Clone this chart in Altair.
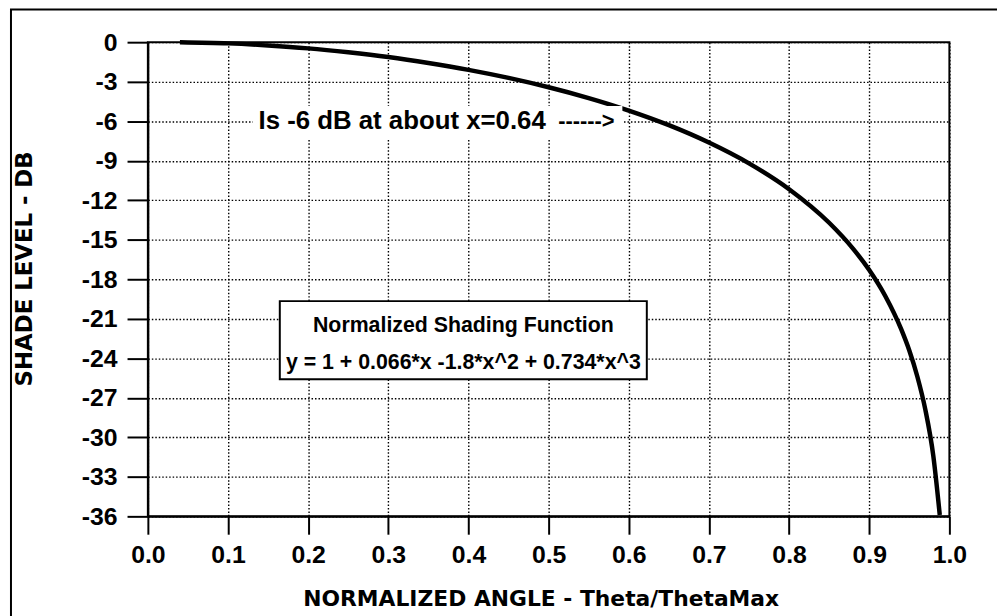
import altair as alt
import pandas as pd

# Curve values (normalized angle, shade level in dB)
angle = [0.04, 0.10, 0.15, 0.20, 0.25, 0.30, 0.35, 0.40, 0.45, 0.50, 0.55, 0.60,
         0.65, 0.70, 0.75, 0.80, 0.85, 0.88, 0.90, 0.92, 0.94, 0.95, 0.96, 0.97,
         0.98, 0.988]
shade_db = [0.0, -0.09, -0.25, -0.47, -0.77, -1.13, -1.58, -2.10, -2.71, -3.42,
            -4.24, -5.19, -6.30, -7.62, -9.20, -11.16, -13.71, -15.69, -17.30,
            -19.27, -21.81, -23.41, -25.38, -27.90, -31.44, -35.90]

x_ticks = [0.0, 0.1, 0.2, 0.3, 0.4, 0.5, 0.6, 0.7, 0.8, 0.9, 1.0]
y_ticks = [0, -3, -6, -9, -12, -15, -18, -21, -24, -27, -30, -33, -36]

note_text = "Is -6 dB at about x=0.64"
arrow_text = "------>"
box_line1 = "Normalized Shading Function"
box_line2 = "y = 1 + 0.066*x -1.8*x^2 + 0.734*x^3"

df = pd.DataFrame({"angle": angle, "db": shade_db})

W, H = 808, 478
LBL = "Liberation Sans, Arial, sans-serif"
TTL = "DejaVu Sans, sans-serif"

xs = alt.Scale(domain=[0, 1], nice=False, zero=False)
ys = alt.Scale(domain=[-36, 0], nice=False, zero=False)

grid_style = dict(grid=True, gridColor="black", gridDash=[1.5, 2], gridWidth=1.4, gridOpacity=1)

curve = alt.Chart(df).mark_line(color="black", strokeWidth=4.5, interpolate="monotone").encode(
    x=alt.X("angle:Q", scale=xs, axis=alt.Axis(
        values=x_ticks, tickCount=30, format=".1f", title="NORMALIZED ANGLE - Theta/ThetaMax",
        **grid_style,
        domainColor="black", domainWidth=2, tickColor="black", tickWidth=2, tickSize=18,
        labelFont=LBL, labelFontSize=25, labelFontWeight="bold", labelColor="black",
        labelPadding=9, labelFlush=False, labelOverlap=False,
        titleFont=TTL, titleFontSize=22, titleFontWeight="bold", titleColor="black",
        titleX=396, titleY=90, titleAlign="center", titleBaseline="alphabetic")),
    y=alt.Y("db:Q", scale=ys, axis=alt.Axis(
        values=y_ticks, tickCount=30, labelExpr="'' + datum.value", title="SHADE LEVEL - DB",
        **grid_style,
        domainColor="black", domainWidth=2, tickColor="black", tickWidth=2, tickSize=21,
        labelFont=LBL, labelFontSize=25, labelFontWeight="bold", labelColor="black",
        labelPadding=10, labelFlush=False, labelOverlap=False,
        titleFont=TTL, titleFontSize=23, titleFontWeight="bold", titleColor="black",
        titleX=-124, titleY=228, titleAngle=-90, titleAlign="center", titleBaseline="middle")),
)

# white backing behind the note (breaks gridlines and the curve as in the original)
note_bg = alt.Chart(alt.Data(values=[{"x": 0.131, "x2": 0.592, "y": -4.85, "y2": -7.3}])).mark_rect(
    color="white").encode(x=alt.X("x:Q", scale=xs), x2="x2:Q", y=alt.Y("y:Q", scale=ys), y2="y2:Q")

note = alt.Chart(alt.Data(values=[{"x": 0.138, "y": -6.0, "t": note_text}])).mark_text(
    font=LBL, fontSize=26, fontWeight="bold", color="black", align="left", baseline="middle"
).encode(x=alt.X("x:Q", scale=xs), y=alt.Y("y:Q", scale=ys), text="t:N")

arrow = alt.Chart(alt.Data(values=[{"x": 0.512, "y": -6.0, "t": arrow_text}])).mark_text(
    font=LBL, fontSize=22, fontWeight="bold", color="black", align="left", baseline="middle"
).encode(x=alt.X("x:Q", scale=xs), y=alt.Y("y:Q", scale=ys), text="t:N")

box = alt.Chart(alt.Data(values=[{"x": 0.1646, "x2": 0.6225, "y": -19.66, "y2": -25.6}])).mark_rect(
    fill="white", stroke="black", strokeWidth=2).encode(
    x=alt.X("x:Q", scale=xs), x2="x2:Q", y=alt.Y("y:Q", scale=ys), y2="y2:Q")

box_text = alt.Chart(alt.Data(values=[
    {"x": 0.3936, "y": -22.0, "t": box_line1},
    {"x": 0.3936, "y": -24.8, "t": box_line2},
])).mark_text(font=LBL, fontSize=21.5, fontWeight="bold", color="black", align="center",
              baseline="alphabetic").encode(
    x=alt.X("x:Q", scale=xs), y=alt.Y("y:Q", scale=ys), text="t:N")

frame = alt.Chart(alt.Data(values=[{}])).mark_rect(
    fillOpacity=0, stroke="black", strokeWidth=2).encode(
    x=alt.value(-138), x2=alt.value(900), y=alt.value(-33), y2=alt.value(620))

chart = alt.layer(frame, curve, note_bg, note, arrow, box, box_text).properties(
    width=W, height=H,
    autosize=alt.AutoSizeParams(type="none"),
    padding={"left": 141, "top": 32, "right": 48, "bottom": 98},
    background="white",
).configure_view(stroke="black", strokeWidth=2)

chart.save("out.html", embed_options={"renderer": "svg", "actions": False})
